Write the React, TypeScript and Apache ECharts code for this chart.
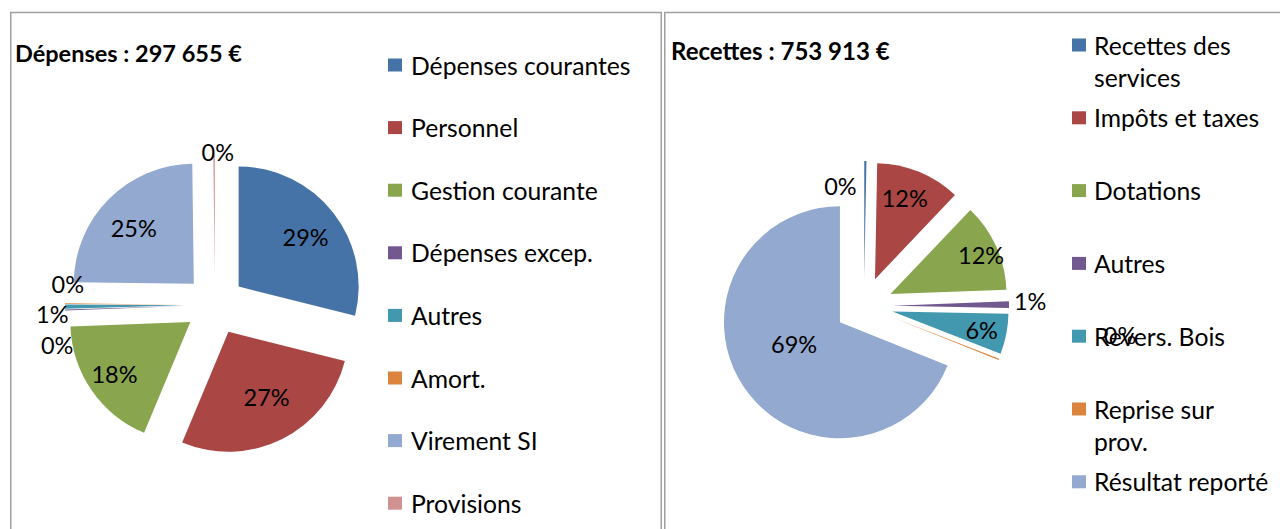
import React, { useEffect, useRef } from "react";
import * as echarts from "echarts";

// ---------- data ----------
const depTitle = "Dépenses : 297 655 €";
const recTitle = "Recettes : 753 913 €";

const depNames = [
  "Dépenses courantes",
  "Personnel",
  "Gestion courante",
  "Dépenses excep.",
  "Autres",
  "Amort.",
  "Virement SI",
  "Provisions",
];
const depValues = [86022, 81557, 53876, 446, 1637, 298, 73223, 596];
const depColors = ["#4572A7", "#AA4643", "#89A54E", "#71588F", "#4198AF", "#DB843D", "#93A9CF", "#D19392"];

const recNames = [
  "Recettes des services",
  "Impôts et taxes",
  "Dotations",
  "Autres",
  "Revers. Bois",
  "Reprise sur prov.",
  "Résultat reporté",
];
const recValues = [2262, 88962, 92731, 6785, 42219, 1508, 519446];
const recColors = ["#4572A7", "#AA4643", "#89A54E", "#71588F", "#4198AF", "#DB843D", "#93A9CF"];

// legend line wrapping (as in the original)
const recLegendLines: Record<string, string[]> = {
  "Recettes des services": ["Recettes des", "services"],
  "Reprise sur prov.": ["Reprise sur", "prov."],
};

// ---------- styling ----------
const FONT = 'Lato, "Noto Sans", sans-serif';
const LABEL_SIZE = 23.5;
const LEGEND_SIZE = 24.7;
const pct = (p: any) => Math.round(p.percent) + "%";

const labelBase = {
  color: "#000",
  fontFamily: FONT,
  fontSize: LABEL_SIZE,
  lineHeight: 28,
  formatter: pct,
  overflow: "none",
};

// per-item label settings: outside labels on visible series, inside labels on overlay
const depOutside: Record<number, any> = {
  3: { label: { show: true, position: "outside", distanceToLabelLine: 5 } },
  4: { label: { show: true, position: "outside", distanceToLabelLine: 5 } },
  5: { label: { show: true, position: "outside", distanceToLabelLine: 5 } },
  7: { label: { show: true, position: "outside", distanceToLabelLine: -20 } },
};
const depOutsideShift: Record<number, any> = {
  3: { dx: -7, dy: -20 },
  4: { dx: 0, dy: -20 },
  5: { dx: 19, dy: -20 },
  7: { dy: -3 },
};
const depInside: Record<number, any> = {
  0: { label: { show: true } },
  1: { label: { show: true } },
  2: { label: { show: true } },
  6: { label: { show: true } },
};
const depInsideShift: Record<number, any> = {
  0: { dy: 3 },
  1: { dy: -11 },
  2: { dx: -6, dy: 3 },
  6: { dy: 4 },
};
const recOutside: Record<number, any> = {
  0: { label: { show: true, position: "outside", distanceToLabelLine: -41 }, labelLine: { length: -25, length2: 0 } },
  3: { label: { show: true, position: "outside", distanceToLabelLine: 5 } },
  5: { label: { show: true, position: "outside", distanceToLabelLine: 5 }, labelLine: { length: 0, length2: 100 } },
};
const recOutsideShift: Record<number, any> = {
  3: { dy: -4 },
  5: { dy: -24 },
};
const recInside: Record<number, any> = {
  1: { label: { show: true } },
  2: { label: { show: true } },
  4: { label: { show: true } },
  6: { label: { show: true } },
};
const recInsideShift: Record<number, any> = {
  1: { dx: -6, dy: 6 },
  2: { dx: 5 },
  4: { dx: -3 },
  6: { dx: 32, dy: -31 },
};

function pieSeries(
  names: string[],
  values: number[],
  colors: string[],
  center: number[],
  radius: number[],
  offset: number,
  overlay: boolean,
  perItem: Record<number, any>,
  shifts: Record<number, any>,
  avoid: boolean
) {
  return {
    type: "pie",
    center,
    radius,
    startAngle: 90,
    clockwise: true,
    selectedMode: "multiple",
    selectedOffset: offset,
    avoidLabelOverlap: avoid,
    silent: true,
    emphasis: { disabled: true },
    itemStyle: { borderWidth: 0 },
    select: { itemStyle: { borderWidth: 0 } },
    label: {
      ...labelBase,
      show: false,
      position: overlay ? "inside" : "outside",
    },
    labelLine: { show: false, length: 0, length2: 0 },
    labelLayout: (p: any) => shifts[p.dataIndex] || {},
    data: names.map((n, i) => {
      const extra = perItem[i] || {};
      return {
        name: n,
        value: values[i],
        selected: true,
        itemStyle: { color: overlay ? "rgba(0,0,0,0)" : colors[i], borderWidth: 0 },
        label: { ...labelBase, position: overlay ? "inside" : "outside", ...(extra.label || { show: false }) },
        labelLine: { show: false, length: 0, length2: 0, ...(extra.labelLine || {}) },
      };
    }),
  };
}

export default function App() {
  const ref = useRef<HTMLDivElement>(null);
  useEffect(() => {
    if (!ref.current) return;
    const chart = echarts.init(ref.current, undefined, { renderer: "svg" });
    const depCenter = [215, 305];
    const recCenter = [864, 306];
    const option: any = {
      animation: false,
      backgroundColor: "#fff",
      title: [
        {
          text: depTitle,
          left: 15,
          top: 38,
          padding: 0,
          textStyle: { fontFamily: FONT, fontSize: 23.5, fontWeight: "bold", color: "#000", lineHeight: 30 },
        },
        {
          text: recTitle,
          left: 671,
          top: 35,
          padding: 0,
          textStyle: { fontFamily: FONT, fontSize: 24, fontWeight: "bold", color: "#000", lineHeight: 30 },
        },
      ],
      legend: [
        {
          orient: "vertical",
          left: 388,
          top: 50,
          padding: 0,
          height: 900,
          itemWidth: 14,
          itemHeight: 13,
          itemGap: 32.6,
          icon: "rect",
          selectedMode: false,
          textStyle: { fontFamily: FONT, fontSize: LEGEND_SIZE, color: "#000", lineHeight: 30, padding: [0, 0, 0, 4] },
          data: depNames.map((n, i) => ({ name: n, itemStyle: { color: depColors[i] } })),
        },
        {
          orient: "vertical",
          left: 1072,
          top: -3,
          padding: 0,
          height: 900,
          itemWidth: 14,
          itemHeight: 13,
          itemGap: -23.2,
          icon: "rect",
          selectedMode: false,
          textStyle: { fontFamily: FONT, fontSize: LEGEND_SIZE, color: "#000", lineHeight: 32, padding: [0, 0, 0, 3] },
          formatter: (name: string) => {
            const lines = recLegendLines[name] || [name];
            return " \n" + lines[0] + "\n" + (lines[1] || " ");
          },
          data: recNames.map((n, i) => ({ name: n, itemStyle: { color: recColors[i] } })),
        },
      ],
      graphic: [
        {
          type: "rect",
          shape: { x: 10.75, y: 12.5, width: 650.5, height: 700 },
          style: { fill: "none", stroke: "#a0a0a0", lineWidth: 1.5 },
          silent: true,
        },
        {
          type: "rect",
          shape: { x: 664.75, y: 12.5, width: 700, height: 700 },
          style: { fill: "none", stroke: "#a0a0a0", lineWidth: 1.5 },
          silent: true,
        },
      ],
      series: [
        pieSeries(depNames, depValues, depColors, depCenter, [0, 120], 30, false, depOutside, depOutsideShift, true),
        pieSeries(depNames, depValues, depColors, depCenter, [44, 120], 30, true, depInside, depInsideShift, false),
        pieSeries(recNames, recValues, recColors, recCenter, [0, 116], 29, false, recOutside, recOutsideShift, false),
        pieSeries(recNames, recValues, recColors, recCenter, [66, 116], 29, true, recInside, recInsideShift, false),
      ],
    };
    chart.setOption(option);
    return () => chart.dispose();
  }, []);
  return (
    <div
      ref={ref}
      style={{ position: "fixed", left: 0, top: 0, width: 1280, height: 529, background: "#fff" }}
    />
  );
}
